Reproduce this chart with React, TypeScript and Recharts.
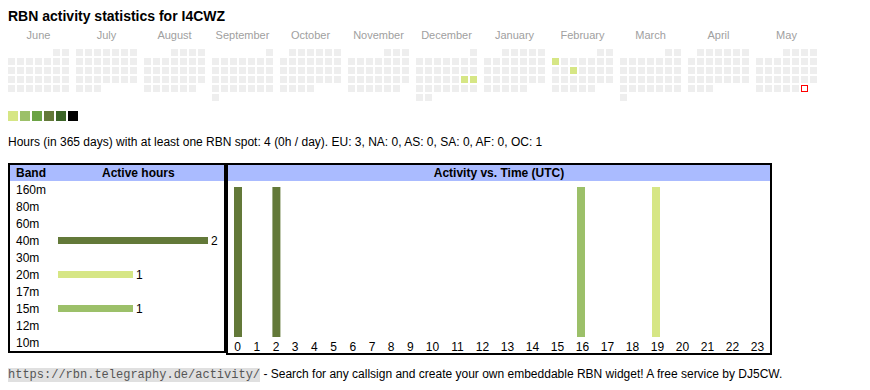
import React from 'react';
import { BarChart, Bar, XAxis, YAxis, Cell, LabelList, ScatterChart, Scatter, Rectangle } from 'recharts';

// calendar (June 2024 .. May 2025)
const MONTH_NAMES = ['June', 'July', 'August', 'September', 'October', 'November', 'December', 'January', 'February', 'March', 'April', 'May'];
const MONTH_KEYS = ['2024-06', '2024-07', '2024-08', '2024-09', '2024-10', '2024-11', '2024-12', '2025-01', '2025-02', '2025-03', '2025-04', '2025-05'];
const TODAY = '2025-05-31';
const ACTIVE_DAYS = ['2024-12-21', '2024-12-22', '2025-02-03', '2025-02-12'];
const ACTIVE_DAY_HOURS = [1, 1, 1, 1];

// active hours per band
const BANDS = ['160m', '80m', '60m', '40m', '30m', '20m', '17m', '15m', '12m', '10m'];
const BAND_HOURS = [0, 0, 0, 2, 0, 1, 0, 1, 0, 0];

// activity vs. time (UTC)
const HOURS = ['0', '1', '2', '3', '4', '5', '6', '7', '8', '9', '10', '11', '12', '13', '14', '15', '16', '17', '18', '19', '20', '21', '22', '23'];
const HOUR_ACTIVITY = [1, 0, 1, 0, 0, 0, 0, 0, 0, 0, 0, 0, 0, 0, 0, 0, 1, 0, 0, 1, 0, 0, 0, 0];
const HOUR_BAND = ['40m', '', '40m', '', '', '', '', '', '', '', '', '', '', '', '', '', '15m', '', '', '20m', '', '', '', ''];

const CONTINENTS = ['EU', 'NA', 'AS', 'SA', 'AF', 'OC'];
const CONTINENT_HOURS = [3, 0, 0, 0, 0, 1];
const TOTAL_HOURS = 4;
const HOURS_PER_DAY = 0;

const LEVEL_COLORS = ['#d6e685', '#9cc069', '#6ba345', '#637939', '#3b6427', '#000000'];
const EMPTY = '#eeeeee';
const BAND_COLORS: Record<string, string> = {
  '160m': '#3b6427', '80m': '#6ba345', '60m': '#6ba345', '40m': '#637939', '30m': '#9cc069',
  '20m': '#d6e685', '17m': '#9cc069', '15m': '#9cc069', '12m': '#d6e685', '10m': '#d6e685',
};
const HEADER_BG = '#aabbff';
const SANS = '"Liberation Sans", Arial, sans-serif';

function monthCells(key: string) {
  const [y, m] = key.split('-').map(Number);
  const offset = (new Date(Date.UTC(y, m - 1, 1)).getUTCDay() + 6) % 7;
  const days = new Date(Date.UTC(y, m, 0)).getUTCDate();
  const cells = [];
  for (let d = 1; d <= days; d++) {
    const iso = `${key}-${String(d).padStart(2, '0')}`;
    const i = ACTIVE_DAYS.indexOf(iso);
    cells.push({
      date: iso,
      dow: (offset + d - 1) % 7,
      week: Math.floor((offset + d - 1) / 7),
      hours: i >= 0 ? ACTIVE_DAY_HOURS[i] : 0,
      today: iso === TODAY,
    });
  }
  return cells;
}

const DaySquare = (props: any) => {
  const { cx, cy, payload } = props;
  if (payload.today) {
    return <rect x={cx - 3} y={cy - 3} width={6} height={6} style={{ fill: '#ffffff', stroke: '#ff0000', strokeWidth: 1 }} />;
  }
  const fill = payload.hours > 0 ? LEVEL_COLORS[Math.min(payload.hours, 6) - 1] : EMPTY;
  return <rect x={cx - 3.5} y={cy - 3.5} width={7} height={7} fill={fill} />;
};

const BandTick = (props: any) => (
  <text x={6} y={props.y} dy={4} fontSize={12} fill="#000" fontFamily={SANS}>
    {props.payload.value}
  </text>
);

const BandLabel = (props: any) => {
  const { x, y, width, height, value } = props;
  if (!value) return null;
  return (
    <text x={x + width + 3} y={y + height / 2} dy={4} fontSize={12} fill="#000" fontFamily={SANS}>
      {value}
    </text>
  );
};

const bandData = BANDS.map((band, i) => ({ band, hours: BAND_HOURS[i] }));
const hourData = HOURS.map((hour, i) => ({ hour, active: HOUR_ACTIVITY[i], band: HOUR_BAND[i] }));

// bars sit a little left of the cell centre in the wider two-digit columns
function HourChart({ rows, width, shift }: { rows: typeof hourData; width: number; shift: number }) {
  return (
    <BarChart width={width} height={172} data={rows} margin={{ top: 6, right: 0, bottom: 0, left: 0 }} barSize={8}>
      <XAxis
        dataKey="hour"
        interval={0}
        axisLine={false}
        tickLine={false}
        tickSize={0}
        tickMargin={5}
        height={16}
        tick={{ fontSize: 12, fill: '#000', fontFamily: SANS }}
      />
      <YAxis hide domain={[0, 1]} />
      <Bar
        dataKey="active"
        isAnimationActive={false}
        shape={(p: any) => <Rectangle {...p} x={p.x + shift} />}
      >
        {rows.map((r) => (
          <Cell key={r.hour} fill={BAND_COLORS[r.band] || EMPTY} />
        ))}
      </Bar>
    </BarChart>
  );
}

export default function App() {
  const summary =
    `Hours (in 365 days) with at least one RBN spot: ${TOTAL_HOURS} (${HOURS_PER_DAY}h / day). ` +
    CONTINENTS.map((c, i) => `${c}: ${CONTINENT_HOURS[i]}`).join(', ');

  return (
    <div style={{ position: 'relative', width: 854, height: 374, fontFamily: SANS, fontSize: 12, color: '#000' }}>
      <div style={{ position: 'absolute', left: 0, top: 0, fontSize: 14, fontWeight: 'bold', lineHeight: '16px', whiteSpace: 'nowrap' }}>
        RBN activity statistics for I4CWZ
      </div>

      <div style={{ position: 'absolute', left: -1, top: 21, display: 'flex' }}>
        {MONTH_KEYS.map((key, m) => (
          <div key={key} style={{ width: 63, marginRight: 5 }}>
            <div style={{ height: 19, fontSize: 11, lineHeight: '13px', color: '#a0a0a0', textAlign: 'center' }}>
              {MONTH_NAMES[m]}
            </div>
            <ScatterChart width={63} height={54} margin={{ top: 0, right: 0, bottom: 0, left: 0 }}>
              <XAxis type="number" dataKey="dow" domain={[-0.5, 6.5]} hide />
              <YAxis type="number" dataKey="week" domain={[-0.5, 5.5]} reversed hide />
              <Scatter data={monthCells(key)} shape={DaySquare} isAnimationActive={false} />
            </ScatterChart>
          </div>
        ))}
      </div>

      <div style={{ position: 'absolute', left: 0, top: 103, display: 'flex' }}>
        {LEVEL_COLORS.map((c) => (
          <div key={c} style={{ width: 10, height: 10, background: c, marginRight: 2 }} />
        ))}
      </div>

      <div style={{ position: 'absolute', left: 0, top: 126, lineHeight: '16px', whiteSpace: 'nowrap' }}>{summary}</div>

      {/* band table */}
      <div style={{ position: 'absolute', left: 0, top: 155, width: 218, height: 190, border: '2px solid #000', boxSizing: 'border-box' }}>
        <div style={{ position: 'relative', height: 16, background: HEADER_BG, fontWeight: 'bold', lineHeight: '16px' }}>
          <span style={{ position: 'absolute', left: 6 }}>Band</span>
          <span style={{ position: 'absolute', left: 92 }}>Active hours</span>
        </div>
        <BarChart layout="vertical" width={214} height={170} data={bandData} margin={{ top: 0, right: 16, bottom: 0, left: 0 }} barSize={7}>
          <XAxis type="number" domain={[0, 2]} hide />
          <YAxis type="category" dataKey="band" width={48} interval={0} axisLine={false} tickLine={false} tick={BandTick} />
          <Bar dataKey="hours" isAnimationActive={false}>
            {bandData.map((d) => (
              <Cell key={d.band} fill={BAND_COLORS[d.band]} />
            ))}
            <LabelList dataKey="hours" content={BandLabel} />
          </Bar>
        </BarChart>
      </div>

      {/* time table */}
      <div style={{ position: 'absolute', left: 218, top: 155, width: 546, height: 192, border: '2px solid #000', boxSizing: 'border-box' }}>
        <div style={{ height: 16, background: HEADER_BG, fontWeight: 'bold', lineHeight: '16px', textAlign: 'center' }}>
          Activity vs. Time (UTC)
        </div>
        <div style={{ display: 'flex' }}>
          <HourChart rows={hourData.slice(0, 10)} width={192} shift={0} />
          <HourChart rows={hourData.slice(10)} width={350} shift={-2} />
        </div>
      </div>

      <div style={{ position: 'absolute', left: 0, top: 358, lineHeight: '16px', whiteSpace: 'nowrap' }}>
        <span style={{ fontFamily: '"Liberation Mono", monospace', background: '#e0e0e0', color: '#555' }}>
          https://rbn.telegraphy.de/activity/
        </span>{' '}
        - Search for any callsign and create your own embeddable RBN widget! A free service by DJ5CW.
      </div>
    </div>
  );
}
